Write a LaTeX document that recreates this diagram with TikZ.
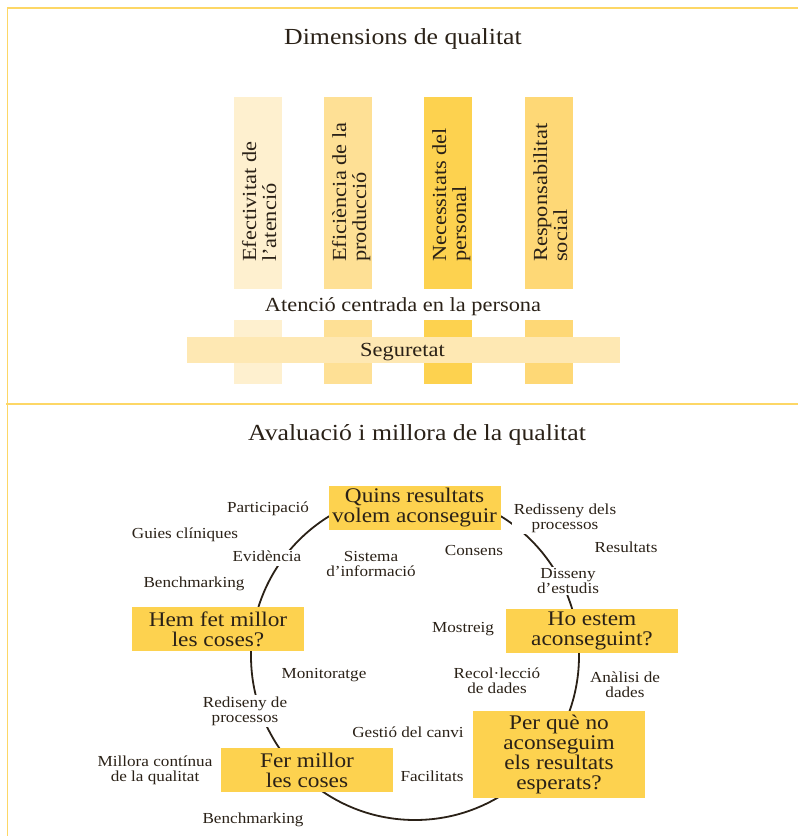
\documentclass[tikz,border=0pt]{standalone}
\usepackage{fontspec}
\setmainfont{Liberation Serif}[FakeStretch=1.12]
\definecolor{ink}{HTML}{2A2117}
\definecolor{framey}{HTML}{FDD766}
\definecolor{boxy}{HTML}{FDD24F}
\definecolor{barA}{HTML}{FEF0CF}
\definecolor{barB}{HTML}{FEE095}
\definecolor{barC}{HTML}{FDD24F}
\definecolor{barD}{HTML}{FED876}
\definecolor{segband}{HTML}{FEE8B3}
\tikzset{
  frameline/.style={draw=framey, line width=1.6pt},
  qbox/.style={fill=boxy, minimum width=172pt, minimum height=44pt, inner sep=0pt,
    align=center, text=ink, font=\fontsize{20.8}{20}\selectfont,
    execute at begin node={\rule{0pt}{17pt}}},
  lbl/.style={fill=white, inner sep=1.5pt, align=center, text=ink, yshift=-2pt,
    font=\fontsize{15.3}{15}\selectfont},
  lbl1/.style={lbl, text height=10pt, text depth=3.3pt},
  bartxt/.style={rotate=90, anchor=base west, inner sep=0pt, text=ink,
    font=\fontsize{20}{20}\selectfont},
  ttl/.style={anchor=base, inner sep=0pt, text=ink, font=\fontsize{23}{23}\selectfont},
  midtxt/.style={anchor=base, inner sep=0pt, text=ink, font=\fontsize{20}{20}\selectfont}
}
\begin{document}
\begin{tikzpicture}[x=1pt,y=-1pt]
\useasboundingbox (0,0) rectangle (798,836);

% frame
\draw[frameline] (7.5,836) -- (7.5,8) -- (798,8);
\draw[frameline] (6,404) -- (798,404);

% ---- quality dimensions ----
\node[ttl] (t1) at (403,44) {Dimensions de qualitat};

\fill[barA] (234,97) rectangle (282,289);
\fill[barB] (324,97) rectangle (372,289);
\fill[barC] (424,97) rectangle (472,289);
\fill[barD] (525,97) rectangle (573,289);

\fill[barA] (234,320) rectangle (282,384);
\fill[barB] (324,320) rectangle (372,384);
\fill[barC] (424,320) rectangle (472,384);
\fill[barD] (525,320) rectangle (573,384);

\fill[segband] (187,337) rectangle (620,363);

\node[bartxt] (b1a) at (256,262) {Efectivitat de};
\node[bartxt] (b1b) at (276,262) {l’atenció};
\node[bartxt] (b2a) at (346,262) {Eficiència de la};
\node[bartxt] (b2b) at (366,262) {producció};
\node[bartxt] (b3a) at (446,262) {Necessitats del};
\node[bartxt] (b3b) at (466,262) {personal};
\node[bartxt] (b4a) at (547,262) {Responsabilitat};
\node[bartxt] (b4b) at (567,262) {social};

\node[midtxt] (acp) at (403,311) {Atenció centrada en la persona};
\node[midtxt] (seg) at (402.5,356.5) {Seguretat};

% ---- evaluation cycle ----
\node[ttl] (t2) at (417,440) {Avaluació i millora de la qualitat};

\draw[ink, line width=1.8pt] (415,656) circle[radius=164];

\node[qbox] (q1) at (414.5,508) {Quins resultats\\volem aconseguir};
\node[qbox] (q2) at (592,631) {Ho estem\\aconseguint?};
\node[qbox, minimum height=87pt] (q3) at (559,754.5) {Per què no\\aconseguim\\els resultats\\esperats?};
\node[qbox] (q4) at (307,770) {Fer millor\\les coses};
\node[qbox] (q5) at (218,629) {Hem fet millor\\les coses?};

\node[lbl1] (l1) at (268,507) {Participació};
\node[lbl1] (l2) at (185,533) {Guies clíniques};
\node[lbl1] (l3) at (267,556) {Evidència};
\node[lbl1] (l4) at (194,582) {Benchmarking};
\node[lbl] (l5) at (371,562) {Sistema\\d’informació};
\node[lbl] (l6) at (565,516) {Redisseny dels\\processos};
\node[lbl1] (l7) at (626,547) {Resultats};
\node[lbl1] (l8) at (474,550) {Consens};
\node[lbl] (l9) at (568,579) {Disseny\\d’estudis};
\node[lbl1] (l10) at (463,627) {Mostreig};
\node[lbl] (l11) at (497,679) {Recol·lecció\\de dades};
\node[lbl] (l12) at (625,683) {Anàlisi de\\dades};
\node[lbl1] (l13) at (324,673) {Monitoratge};
\node[lbl] (l14) at (245,709) {Rediseny de\\processos};
\node[lbl1] (l15) at (408,732) {Gestió del canvi};
\node[lbl] (l16) at (155,768) {Millora contínua\\de la qualitat};
\node[lbl1] (l17) at (432,776) {Facilitats};
\node[lbl1] (l18) at (253,818) {Benchmarking};
\end{tikzpicture}
\end{document}
